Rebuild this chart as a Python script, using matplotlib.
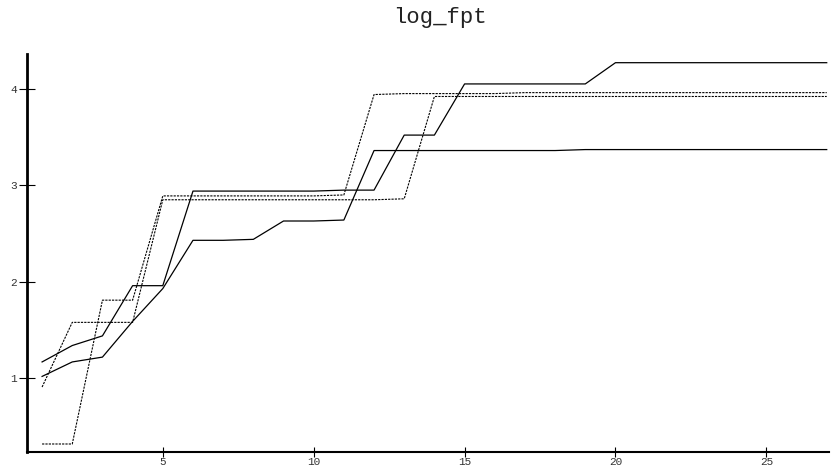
import matplotlib
matplotlib.use("Agg")
import matplotlib.pyplot as plt

steps = list(range(1, 28))

# two solid curves
solid_a = [1.17, 1.34, 1.44, 1.96, 1.96, 2.94, 2.94, 2.94, 2.94, 2.94, 2.95, 2.95, 3.52, 3.52,
           4.05, 4.05, 4.05, 4.05, 4.05, 4.27, 4.27, 4.27, 4.27, 4.27, 4.27, 4.27, 4.27]
solid_b = [1.02, 1.17, 1.22, 1.59, 1.93, 2.43, 2.43, 2.44, 2.63, 2.63, 2.64, 3.36, 3.36, 3.36,
           3.36, 3.36, 3.36, 3.36, 3.37, 3.37, 3.37, 3.37, 3.37, 3.37, 3.37, 3.37, 3.37]
# two dotted curves
dot_a = [0.91, 1.58, 1.58, 1.58, 2.85, 2.85, 2.85, 2.85, 2.85, 2.85, 2.85, 2.85, 2.86, 3.92,
         3.92, 3.92, 3.92, 3.92, 3.92, 3.92, 3.92, 3.92, 3.92, 3.92, 3.92, 3.92, 3.92]
dot_b = [0.32, 0.32, 1.81, 1.81, 2.89, 2.89, 2.89, 2.89, 2.89, 2.89, 2.90, 3.94, 3.95, 3.95,
         3.95, 3.95, 3.96, 3.96, 3.96, 3.96, 3.96, 3.96, 3.96, 3.96, 3.96, 3.96, 3.96]

title = "log_fpt"
xticks = [5, 10, 15, 20, 25]
yticks = [1, 2, 3, 4]

mono = "Liberation Mono"

fig = plt.figure(figsize=(8.33, 4.68), dpi=100)
ax = fig.add_axes([0.0324, 0.0348, 0.9626, 0.8498])

ax.plot(steps, solid_a, color="black", lw=0.9)
ax.plot(steps, solid_b, color="black", lw=0.9)
ax.plot(steps, dot_a, color="black", lw=0.8, linestyle=(0, (2, 1)))
ax.plot(steps, dot_b, color="black", lw=0.8, linestyle=(0, (2, 1)))

ax.set_xlim(0.5, 27.07)
ax.set_ylim(0.24, 4.36)
ax.set_xticks(xticks)
ax.set_yticks(yticks)

for s in ["top", "right"]:
    ax.spines[s].set_visible(False)
ax.spines["left"].set_linewidth(2)
ax.spines["bottom"].set_linewidth(1.5)

ax.tick_params(axis="x", direction="inout", length=7, width=0.8, pad=0)
ax.tick_params(axis="y", direction="inout", length=12, width=0.8, pad=1)
for lab in ax.get_xticklabels() + ax.get_yticklabels():
    lab.set_fontfamily(mono)
    lab.set_fontsize(8)
    lab.set_color("#333333")

fig.text(0.528, 0.962, title, ha="center", va="center", fontfamily=mono,
         fontsize=16, color="#222222")

fig.savefig("out.png", dpi=100)
